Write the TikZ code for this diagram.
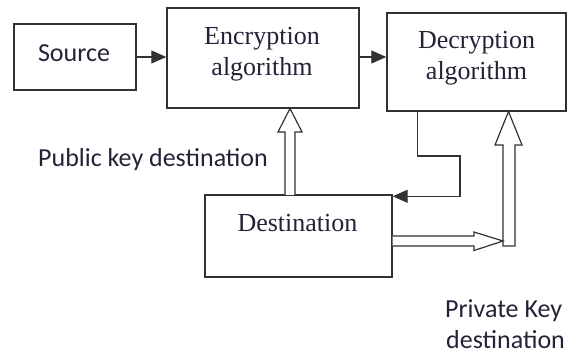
\documentclass[tikz,border=0pt]{standalone}
\usepackage{fontspec}
\setmainfont{Liberation Serif}
\newfontfamily\calibfont{Carlito}
\usetikzlibrary{arrows.meta}
\definecolor{linegray}{RGB}{50,50,50}
\definecolor{inkdark}{RGB}{35,35,55}
\begin{document}
\begin{tikzpicture}[x=1pt,y=-1pt,
  blockbox/.style={draw=linegray, line width=1.4pt, inner sep=0pt, fill=white},
  seriflbl/.style={inner sep=0pt, text=inkdark, font=\fontsize{26}{31}\selectfont},
  sanslbl/.style={inner sep=0pt, text=inkdark, font=\calibfont\fontsize{26}{31}\selectfont},
  flow/.style={draw=linegray, line width=1.2pt, -{Triangle[length=15pt,width=13pt]}},
  hollow/.style={draw=linegray, line width=1.2pt, fill=white, line join=miter}]
\useasboundingbox (0,0) rectangle (567,355);

% blocks
\node[blockbox, minimum width=122pt, minimum height=66pt] (src) at (75,57) {};
\node[blockbox, minimum width=192pt, minimum height=100pt] (enc) at (263,58) {};
\node[blockbox, minimum width=179pt, minimum height=98pt] (dec) at (476.5,62) {};
\node[blockbox, minimum width=187pt, minimum height=82pt] (dst) at (298.5,236) {};

% block texts
\node[sanslbl, anchor=base] (srcT) at (74,62) {Source};
\node[seriflbl, anchor=base] (encA) at (262,45) {Encryption};
\node[seriflbl, anchor=base] (encB) at (262,76) {algorithm};
\node[seriflbl, anchor=base] (decA) at (476.5,49) {Decryption};
\node[seriflbl, anchor=base] (decB) at (476.5,80) {algorithm};
\node[seriflbl, anchor=base] (dstT) at (297.5,232) {Destination};

% free labels
\node[sanslbl, anchor=base west] (pubT) at (38,167) {Public key destination};
\node[sanslbl, anchor=base west] (privA) at (445,317) {Private Key};
\node[sanslbl, anchor=base west] (privB) at (446,348) {destination};

% plain message flow
\draw[flow] (src.east) -- (src.east -| enc.west);
\draw[flow] (enc.east |- src.east) -- (dec.west |- src.east);
\coordinate (fbA) at (460,156);
\draw[flow] ([xshift=31pt]dec.south west) |- (fbA) |- ([yshift=-2pt]dst.north east);

% key arrows (hollow)
\coordinate (pubTip) at (290,108.5);
\draw[hollow] (285,195) -- (285,132) -- (278,132) -- (pubTip) -- (302,132) -- (295,132) -- (295,195);
\coordinate (privTip) at (508.5,111.5);
\draw[hollow] (503,246) -- (503,145) -- (495,145) -- (privTip) -- (522,145) -- (515,145) -- (515,246) -- cycle;
\coordinate (privJoin) at (503,241);
\draw[hollow] (dst.east |- 0,236) -- (474,236) -- (474,232) -- (privJoin) -- (474,250.5) -- (474,246) -- (dst.east |- 0,246);
\end{tikzpicture}
\end{document}
